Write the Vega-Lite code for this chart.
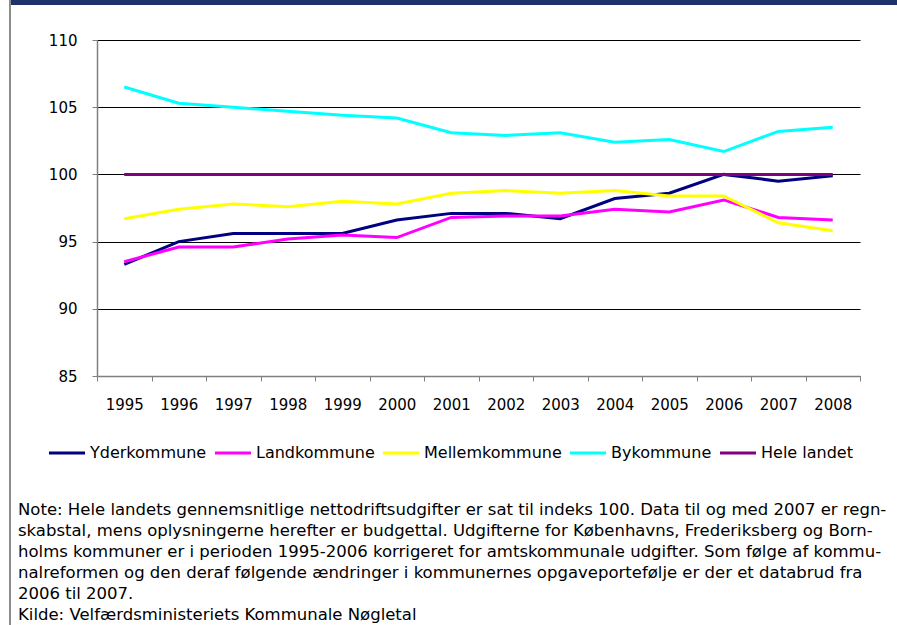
{
  "$schema": "https://vega.github.io/schema/vega-lite/v6.json",
  "padding": {"left": 9, "top": 0, "right": 0, "bottom": 0},
  "background": "white",
  "config": {
    "view": {"stroke": null},
    "font": "DejaVu Sans"
  },
  "spacing": 0,
  "hconcat": [
    {
      "width": 2,
      "height": 625,
      "view": {"fill": "#8c8c8c", "stroke": null},
      "data": {"values": [{}]},
      "mark": {"type": "point", "size": 0, "opacity": 0}
    },
    {
      "columns": 1,
      "spacing": 28,
      "concat": [
        {
          "width": 800,
          "height": 5,
          "view": {"fill": "#1f3169", "stroke": null},
          "data": {"values": [{}]},
          "mark": {"type": "point", "size": 0, "opacity": 0},
          "encoding": {
            "y": {
              "datum": 0,
              "type": "quantitative",
              "axis": {
                "title": null,
                "labels": false,
                "ticks": false,
                "grid": false,
                "domain": true,
                "domainColor": "#1f3169",
                "domainWidth": 172,
                "domainCap": "butt",
                "translate": 0,
                "minExtent": 86,
                "maxExtent": 86
              }
            }
          }
        },
        {
          "width": 763,
          "height": 336,
          "title": {
            "text": [
              "Note: Hele landets gennemsnitlige nettodriftsudgifter er sat til indeks 100. Data til og med 2007 er regn-",
              "skabstal, mens oplysningerne herefter er budgettal. Udgifterne for Københavns, Frederiksberg og Born-",
              "holms kommuner er i perioden 1995-2006 korrigeret for amtskommunale udgifter. Som følge af kommu-",
              "nalreformen og den deraf følgende ændringer i kommunernes opgaveportefølje er der et databrud fra",
              "2006 til 2007.",
              "Kilde: Velfærdsministeriets Kommunale Nøgletal"
            ],
            "orient": "bottom",
            "anchor": "start",
            "frame": "bounds",
            "font": "DejaVu Sans",
            "fontSize": 16.5,
            "fontWeight": "normal",
            "color": "#000000",
            "lineHeight": 21,
            "offset": 90,
            "dx": 7
          },
          "data": {
            "values": [
              {"year": 1995, "series": "Yderkommune", "value": 93.3},
              {"year": 1996, "series": "Yderkommune", "value": 95.0},
              {"year": 1997, "series": "Yderkommune", "value": 95.6},
              {"year": 1998, "series": "Yderkommune", "value": 95.6},
              {"year": 1999, "series": "Yderkommune", "value": 95.6},
              {"year": 2000, "series": "Yderkommune", "value": 96.6},
              {"year": 2001, "series": "Yderkommune", "value": 97.1},
              {"year": 2002, "series": "Yderkommune", "value": 97.1},
              {"year": 2003, "series": "Yderkommune", "value": 96.7},
              {"year": 2004, "series": "Yderkommune", "value": 98.2},
              {"year": 2005, "series": "Yderkommune", "value": 98.6},
              {"year": 2006, "series": "Yderkommune", "value": 100.0},
              {"year": 2007, "series": "Yderkommune", "value": 99.5},
              {"year": 2008, "series": "Yderkommune", "value": 99.9},
              {"year": 1995, "series": "Landkommune", "value": 93.5},
              {"year": 1996, "series": "Landkommune", "value": 94.6},
              {"year": 1997, "series": "Landkommune", "value": 94.6},
              {"year": 1998, "series": "Landkommune", "value": 95.2},
              {"year": 1999, "series": "Landkommune", "value": 95.5},
              {"year": 2000, "series": "Landkommune", "value": 95.3},
              {"year": 2001, "series": "Landkommune", "value": 96.8},
              {"year": 2002, "series": "Landkommune", "value": 96.9},
              {"year": 2003, "series": "Landkommune", "value": 96.9},
              {"year": 2004, "series": "Landkommune", "value": 97.4},
              {"year": 2005, "series": "Landkommune", "value": 97.2},
              {"year": 2006, "series": "Landkommune", "value": 98.1},
              {"year": 2007, "series": "Landkommune", "value": 96.8},
              {"year": 2008, "series": "Landkommune", "value": 96.6},
              {"year": 1995, "series": "Mellemkommune", "value": 96.7},
              {"year": 1996, "series": "Mellemkommune", "value": 97.4},
              {"year": 1997, "series": "Mellemkommune", "value": 97.8},
              {"year": 1998, "series": "Mellemkommune", "value": 97.6},
              {"year": 1999, "series": "Mellemkommune", "value": 98.0},
              {"year": 2000, "series": "Mellemkommune", "value": 97.8},
              {"year": 2001, "series": "Mellemkommune", "value": 98.6},
              {"year": 2002, "series": "Mellemkommune", "value": 98.8},
              {"year": 2003, "series": "Mellemkommune", "value": 98.6},
              {"year": 2004, "series": "Mellemkommune", "value": 98.8},
              {"year": 2005, "series": "Mellemkommune", "value": 98.4},
              {"year": 2006, "series": "Mellemkommune", "value": 98.4},
              {"year": 2007, "series": "Mellemkommune", "value": 96.4},
              {"year": 2008, "series": "Mellemkommune", "value": 95.8},
              {"year": 1995, "series": "Bykommune", "value": 106.5},
              {"year": 1996, "series": "Bykommune", "value": 105.3},
              {"year": 1997, "series": "Bykommune", "value": 105.0},
              {"year": 1998, "series": "Bykommune", "value": 104.7},
              {"year": 1999, "series": "Bykommune", "value": 104.4},
              {"year": 2000, "series": "Bykommune", "value": 104.2},
              {"year": 2001, "series": "Bykommune", "value": 103.1},
              {"year": 2002, "series": "Bykommune", "value": 102.9},
              {"year": 2003, "series": "Bykommune", "value": 103.1},
              {"year": 2004, "series": "Bykommune", "value": 102.4},
              {"year": 2005, "series": "Bykommune", "value": 102.6},
              {"year": 2006, "series": "Bykommune", "value": 101.7},
              {"year": 2007, "series": "Bykommune", "value": 103.2},
              {"year": 2008, "series": "Bykommune", "value": 103.5},
              {"year": 1995, "series": "Hele landet", "value": 100},
              {"year": 1996, "series": "Hele landet", "value": 100},
              {"year": 1997, "series": "Hele landet", "value": 100},
              {"year": 1998, "series": "Hele landet", "value": 100},
              {"year": 1999, "series": "Hele landet", "value": 100},
              {"year": 2000, "series": "Hele landet", "value": 100},
              {"year": 2001, "series": "Hele landet", "value": 100},
              {"year": 2002, "series": "Hele landet", "value": 100},
              {"year": 2003, "series": "Hele landet", "value": 100},
              {"year": 2004, "series": "Hele landet", "value": 100},
              {"year": 2005, "series": "Hele landet", "value": 100},
              {"year": 2006, "series": "Hele landet", "value": 100},
              {"year": 2007, "series": "Hele landet", "value": 100},
              {"year": 2008, "series": "Hele landet", "value": 100}
            ]
          },
          "mark": {"type": "line", "strokeWidth": 3, "clip": false},
          "encoding": {
            "x": {
              "field": "year",
              "type": "ordinal",
              "scale": {"type": "band", "paddingInner": 0, "paddingOuter": 0},
              "axis": {
                "title": null,
                "grid": false,
                "labelAngle": 0,
                "tickBand": "extent",
                "labelFont": "DejaVu Sans",
                "labelFontSize": 15,
                "labelColor": "#000000",
                "labelPadding": 16,
                "tickSize": 5,
                "tickColor": "#808080",
                "domainColor": "#808080",
                "domainWidth": 1.5
              }
            },
            "y": {
              "field": "value",
              "type": "quantitative",
              "scale": {"domain": [85, 110], "nice": false, "zero": false},
              "axis": {
                "title": null,
                "values": [85, 90, 95, 100, 105, 110],
                "grid": true,
                "gridColor": "#000000",
                "gridWidth": 1,
                "labelFont": "DejaVu Sans",
                "labelFontSize": 15,
                "labelColor": "#000000",
                "labelPadding": 15,
                "tickSize": 5,
                "tickColor": "#808080",
                "domainColor": "#808080",
                "domainWidth": 1.5,
                "minExtent": 86
              }
            },
            "color": {
              "field": "series",
              "type": "nominal",
              "scale": {
                "domain": ["Yderkommune", "Landkommune", "Mellemkommune", "Bykommune", "Hele landet"],
                "range": ["#000080", "#ff00ff", "#ffff00", "#00ffff", "#800080"]
              },
              "legend": {
                "orient": "none",
                "legendX": 38,
                "legendY": 433,
                "direction": "horizontal",
                "title": null,
                "symbolType": "stroke",
                "symbolSize": 1300,
                "symbolStrokeWidth": 3,
                "labelFont": "DejaVu Sans",
                "labelFontSize": 16,
                "labelColor": "#000000",
                "labelOffset": 3,
                "columnPadding": 1,
                "labelLimit": 300
              }
            }
          }
        }
      ]
    }
  ]
}
